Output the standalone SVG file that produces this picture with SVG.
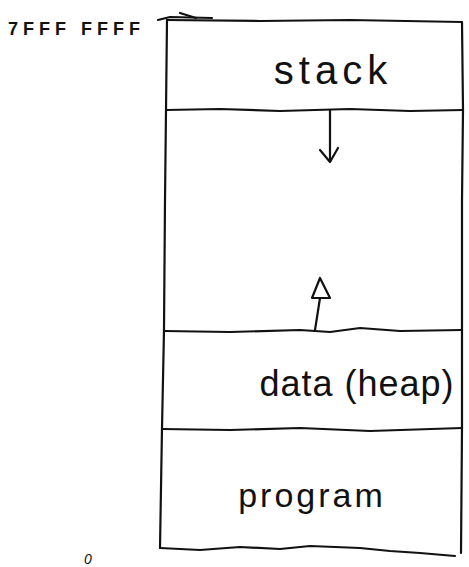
<svg xmlns="http://www.w3.org/2000/svg" width="469" height="567" viewBox="0 0 469 567">
<style>
.ln{fill:none;stroke:#111;stroke-width:2.2;stroke-linecap:round;stroke-linejoin:round}
.t{font-family:"Liberation Sans","DejaVu Sans",sans-serif;fill:#111}
</style>
<rect width="469" height="567" fill="#fff"/>
<g id="frame">
<path class="ln" d="M167,20 L166,110 L165,200 L164,330 L162,428 L160,548"/>
<path class="ln" d="M167,20 L260,21 L350,20 L462,22 L463,110 L462,200 L462,331 L462,428 L461,553"/>
</g>
<g id="stack">
<path class="ln" d="M166,110 L220,109 L280,111 L350,109 L410,111 L463,110"/>
<text class="t" x="333" y="84" font-size="40" text-anchor="middle" letter-spacing="5">stack</text>
</g>
<g id="free"/>
<g id="data">
<path class="ln" d="M164,331 L230,332 L300,330 L330,332 L360,328 L400,331 L462,330"/>
<text class="t" x="357" y="396" font-size="36" text-anchor="middle" letter-spacing="1">data (heap)</text>
</g>
<g id="program">
<path class="ln" d="M162,429 L230,430 L300,428 L370,431 L462,428"/>
<text class="t" x="312" y="507" font-size="34" text-anchor="middle" letter-spacing="3">program</text>
<path class="ln" d="M160,548 L200,550 L240,547 L280,549 L310,546 L360,548 L390,551 L420,553 L455,556"/>
</g>
<g id="labels">
<text class="t" x="8" y="35" font-size="18" font-weight="bold" letter-spacing="5">7FFF FFFF</text>
<text class="t" x="84" y="564" font-size="14" font-style="italic">0</text>
</g>
<g id="connectors">
<path class="ln" d="M158,20 L170,17 L212,18"/>
<path class="ln" d="M180,13 L196,18"/>
<path class="ln" d="M330,110 L330,160"/>
<path class="ln" d="M320,150 L330,162 L338,148"/>
<path class="ln" d="M315,330 L320,298"/>
<path class="ln" d="M320,298 L312,298 L320,278 L330,298 Z"/>
</g>
</svg>
